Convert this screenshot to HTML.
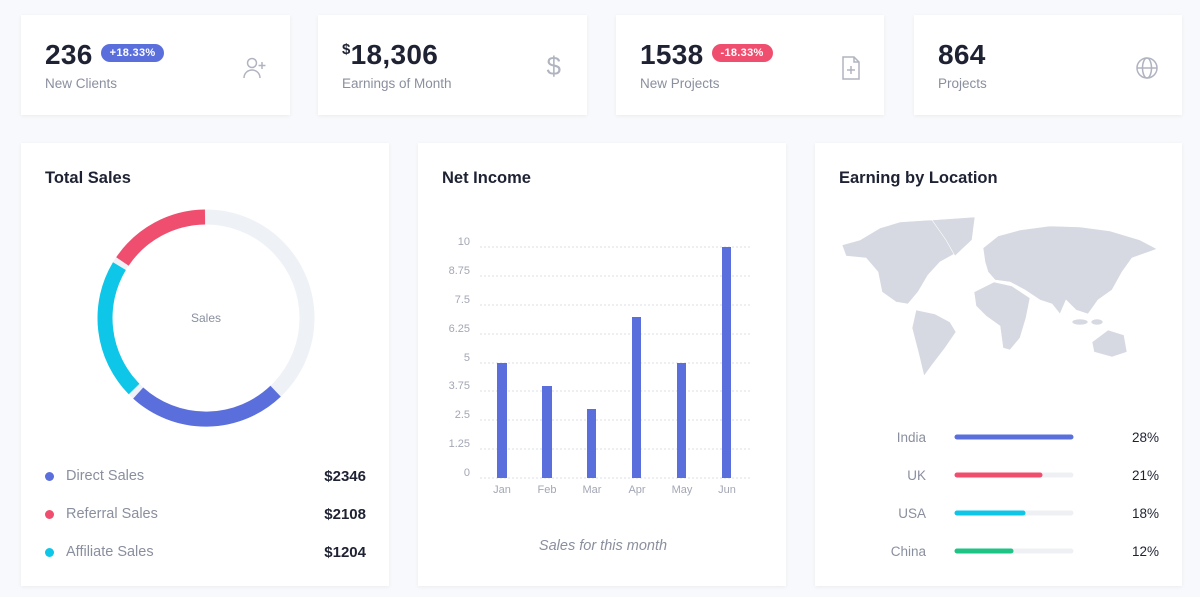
<!DOCTYPE html>
<html><head><style>
*{margin:0;padding:0;box-sizing:border-box}
body{width:1200px;height:597px;background:#f8f9fc;font-family:"Liberation Sans",sans-serif;position:relative;overflow:hidden}
.card{position:absolute;background:#fff;box-shadow:0 1px 4px rgba(0,0,0,.06)}
.num{position:absolute;left:24px;top:24px;font-size:28px;font-weight:bold;color:#1e2233;letter-spacing:.3px}
.lbl{position:absolute;left:24px;top:61px;font-size:13.5px;color:#8a8f9e}
.badge{display:inline-block;vertical-align:middle;font-size:11px;font-weight:bold;color:#fff;border-radius:10px;padding:3px 9px;margin-left:8px;position:relative;top:-4px}
.ico{position:absolute;right:22px;top:40px}
.title{position:absolute;left:24px;top:26px;font-size:16.5px;font-weight:bold;color:#1e2233}
.t{position:absolute;font-size:14.5px;color:#8a8f9e}
.v{position:absolute;font-size:15px;font-weight:bold;color:#1e2233}
</style></head><body>
<div class="card" style="left:21px;top:15px;width:269px;height:100px">
<div class="num">236<span class="badge" style="background:#5a6fdc">+18.33%</span></div>
<div class="lbl">New Clients</div>
<svg class="ico" width="26" height="26" viewBox="0 0 26 26" fill="none" stroke="#b0b4c0" stroke-width="1.5"><circle cx="10" cy="8" r="4.5"/><path d="M2 23c0-5 4-8 8-8s8 3 8 8"/><path d="M20 7v7M16.5 10.5h7"/></svg>
</div>
<div class="card" style="left:318px;top:15px;width:269px;height:100px">
<div class="num"><span style="font-size:15px;vertical-align:top;position:relative;top:2px">$</span>18,306</div>
<div class="lbl">Earnings of Month</div>
<div class="ico" style="font-size:26px;color:#b0b4c0;top:36px;right:26px">$</div>
</div>
<div class="card" style="left:616px;top:15px;width:268px;height:100px">
<div class="num">1538<span class="badge" style="background:#f04e6e">-18.33%</span></div>
<div class="lbl">New Projects</div>
<svg class="ico" width="22" height="26" viewBox="0 0 22 26" fill="none" stroke="#b0b4c0" stroke-width="1.5"><path d="M3 2h11l5 5v17H3z"/><path d="M14 2v5h5M11 11v8M7 15h8"/></svg>
</div>
<div class="card" style="left:914px;top:15px;width:268px;height:100px">
<div class="num">864</div>
<div class="lbl">Projects</div>
<svg class="ico" width="26" height="26" viewBox="0 0 26 26" fill="none" stroke="#b0b4c0" stroke-width="1.5"><circle cx="13" cy="13" r="10"/><ellipse cx="13" cy="13" rx="4.5" ry="10"/><path d="M3 13h20"/></svg>
</div>

<div class="card" style="left:21px;top:143px;width:368px;height:443px">
<div class="title">Total Sales</div>
</div>
<svg style="position:absolute;left:0;top:0" width="1200" height="597">
<g fill="none" stroke-width="15">
<circle cx="206" cy="318" r="101" stroke="#eef1f6"/>
<path d="M275.6,391.2 A101,101 0 0 1 138.2,393.1" stroke="#5a6fdc"/>
<path d="M134.1,389.0 A101,101 0 0 1 119.4,266.1" stroke="#0dc6e8"/>
<path d="M122.4,261.5 A101,101 0 0 1 205,217" stroke="#f04e6e"/>
</g>
<text x="206" y="322" font-size="12" fill="#8a8f9e" text-anchor="middle" font-family="Liberation Sans">Sales</text>
</svg>
<div style="position:absolute;left:45px;top:472px;width:9px;height:9px;border-radius:50%;background:#5a6fdc"></div>
<div style="position:absolute;left:45px;top:510px;width:9px;height:9px;border-radius:50%;background:#f04e6e"></div>
<div style="position:absolute;left:45px;top:548px;width:9px;height:9px;border-radius:50%;background:#0dc6e8"></div>
<div class="t" style="left:66px;top:468px">Direct Sales</div>
<div class="t" style="left:66px;top:506px">Referral Sales</div>
<div class="t" style="left:66px;top:544px">Affiliate Sales</div>
<div class="v" style="right:834px;top:468px">$2346</div>
<div class="v" style="right:834px;top:506px">$2108</div>
<div class="v" style="right:834px;top:544px">$1204</div>

<div class="card" style="left:418px;top:143px;width:368px;height:443px">
<div class="title">Net Income</div>
</div>
<svg style="position:absolute;left:0;top:0" width="1200" height="597" font-family="Liberation Sans">
<g stroke="#dcdfe6" stroke-dasharray="2,2" stroke-width="1">
<line x1="480" x2="750" y1="247" y2="247"/><line x1="480" x2="750" y1="276" y2="276"/><line x1="480" x2="750" y1="305" y2="305"/><line x1="480" x2="750" y1="334" y2="334"/><line x1="480" x2="750" y1="363" y2="363"/><line x1="480" x2="750" y1="391" y2="391"/><line x1="480" x2="750" y1="420" y2="420"/><line x1="480" x2="750" y1="449" y2="449"/><line x1="480" x2="750" y1="478" y2="478"/>
</g>
<g font-size="11" fill="#a3a7b5" text-anchor="end">
<text x="470" y="245">10</text><text x="470" y="274">8.75</text><text x="470" y="303">7.5</text><text x="470" y="332">6.25</text><text x="470" y="361">5</text><text x="470" y="389">3.75</text><text x="470" y="418">2.5</text><text x="470" y="447">1.25</text><text x="470" y="476">0</text>
</g>
<g fill="#5a6fdc">
<rect x="497" y="363" width="10" height="115"/><rect x="542" y="386" width="10" height="92"/><rect x="587" y="409" width="9" height="69"/><rect x="632" y="317" width="9" height="161"/><rect x="677" y="363" width="9" height="115"/><rect x="722" y="247" width="9" height="231"/>
</g>
<g font-size="11" fill="#a3a7b5" text-anchor="middle">
<text x="502" y="493">Jan</text><text x="547" y="493">Feb</text><text x="592" y="493">Mar</text><text x="637" y="493">Apr</text><text x="682" y="493">May</text><text x="727" y="493">Jun</text>
</g>
<text x="603" y="550" font-size="14.5" font-style="italic" fill="#8a8f9e" text-anchor="middle">Sales for this month</text>
</svg>

<div class="card" style="left:815px;top:143px;width:367px;height:443px">
<div class="title">Earning by Location</div>
</div>
<svg style="position:absolute;left:0;top:0" width="1200" height="597">
<g fill="#d6d9e1" stroke="#fff" stroke-width=".6">
<polygon points="842,245 860,240 880,228 900,222 930,220 955,222 968,232 958,252 940,262 928,275 918,292 908,304 896,302 882,292 878,272 866,258 846,256"/>
<polygon points="932,220 975,217 972,240 955,256 946,240"/>
<polygon points="916,310 935,314 950,322 956,332 945,348 932,365 924,376 919,355 912,328"/>
<polygon points="985,262 983,248 998,236 1020,230 1050,226 1080,227 1110,231 1140,240 1157,249 1132,258 1122,272 1112,290 1098,300 1088,314 1076,310 1066,300 1060,314 1052,304 1040,300 1025,290 1010,282 995,280 988,272"/>
<polygon points="974,292 994,282 1012,286 1030,298 1026,318 1020,338 1010,350 1003,348 1000,326 986,316 976,306"/>
<polygon points="1092,342 1108,330 1124,335 1127,352 1112,357 1094,352"/>
<ellipse cx="1080" cy="322" rx="8" ry="3"/><ellipse cx="1097" cy="322" rx="6" ry="3"/>
</g>
<g font-family="Liberation Sans" font-size="13.5" fill="#8a8f9e" text-anchor="end">
<text x="926" y="442">India</text><text x="926" y="480">UK</text><text x="926" y="518">USA</text><text x="926" y="556">China</text>
</g>
<g stroke-width="5" stroke-linecap="round">
<line x1="957" x2="1071" y1="437" y2="437" stroke="#eef0f4"/><line x1="957" x2="1071" y1="437" y2="437" stroke="#5a6fdc"/>
<line x1="957" x2="1071" y1="475" y2="475" stroke="#eef0f4"/><line x1="957" x2="1040" y1="475" y2="475" stroke="#f04e6e"/>
<line x1="957" x2="1071" y1="513" y2="513" stroke="#eef0f4"/><line x1="957" x2="1023" y1="513" y2="513" stroke="#0dc6e8"/>
<line x1="957" x2="1071" y1="551" y2="551" stroke="#eef0f4"/><line x1="957" x2="1011" y1="551" y2="551" stroke="#1ec486"/>
</g>
<g font-family="Liberation Sans" font-size="13.5" fill="#1e2233" text-anchor="end">
<text x="1159" y="442">28%</text><text x="1159" y="480">21%</text><text x="1159" y="518">18%</text><text x="1159" y="556">12%</text>
</g>
</svg>
</body></html>
